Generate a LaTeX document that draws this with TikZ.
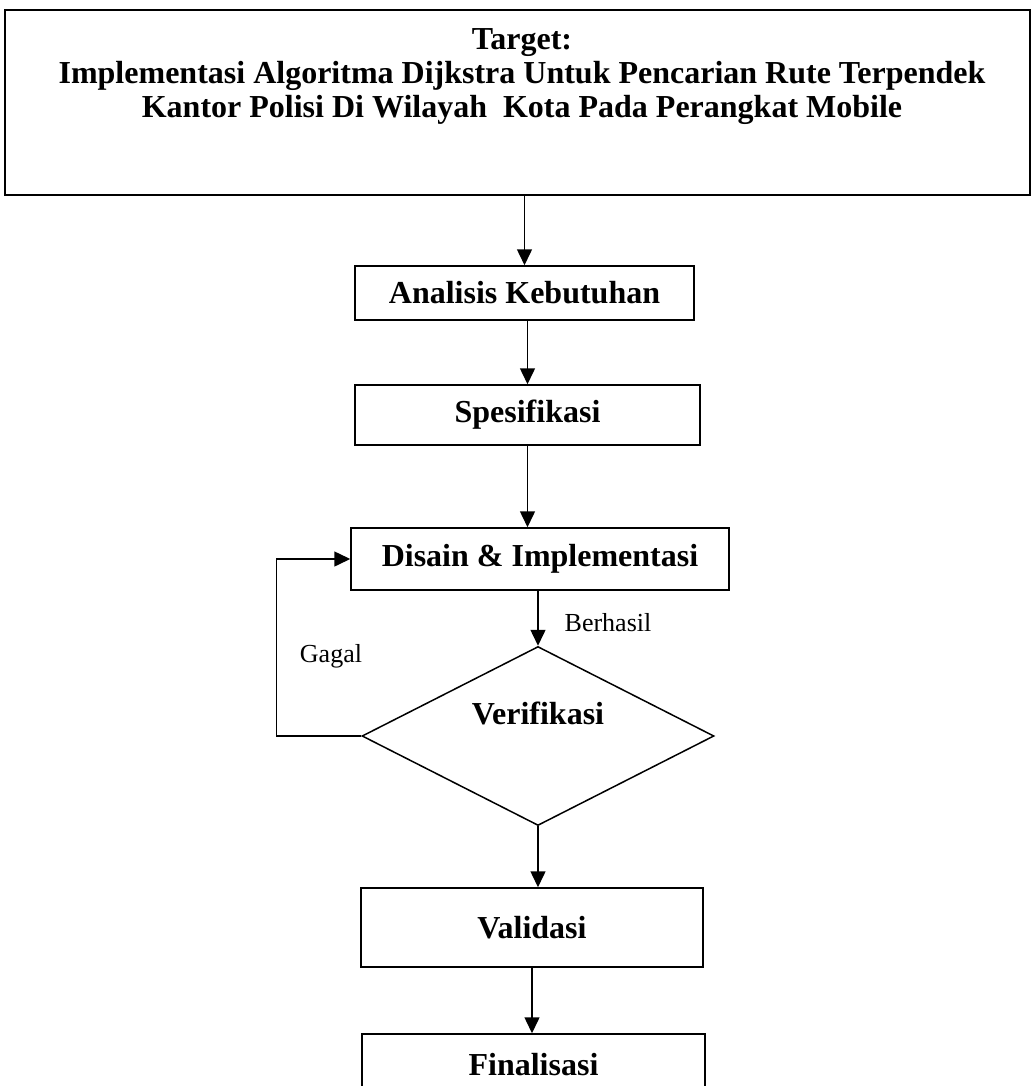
\documentclass[tikz,border=0pt]{standalone}
\usepackage{fontspec}
\setmainfont{Liberation Serif}
\usetikzlibrary{shapes.geometric,arrows.meta}
\tikzset{
  boxnode/.style={draw,line width=1.5pt,inner sep=0pt,font=\fontsize{32}{38}\selectfont\bfseries},
  conn/.style={line width=1.5pt,-{Triangle[length=16pt,width=15pt]}},
  lbl/.style={font=\fontsize{26}{30}\selectfont},
}
\begin{document}
\begin{tikzpicture}[x=1pt,y=-1pt]
\useasboundingbox (0,0) rectangle (1032,1086);
\node[draw,line width=1.5pt,minimum width=1025pt,minimum height=185pt,inner sep=0pt] (target) at (517.5,102.5) {};
\node[align=center,font=\fontsize{32}{34}\selectfont\bfseries] (title) at (522,77)
  {Target:\\Implementasi Algoritma Dijkstra Untuk Pencarian Rute Terpendek\\Kantor Polisi Di Wilayah\ \ Kota Pada Perangkat Mobile};
\node[boxnode,minimum width=339pt,minimum height=54pt] (ana) at (524.5,293) {Analisis Kebutuhan};
\node[boxnode,minimum width=345pt,minimum height=60pt] (spes) at (527.5,415) {Spesifikasi};
\node[boxnode,minimum width=378pt,minimum height=62pt] (dis) at (540,559) {Disain \& Implementasi};
\node[draw,diamond,line width=1.5pt,inner sep=0pt,aspect=1.97,minimum width=352pt,minimum height=179pt] (ver) at (538,736) {};
\node[font=\fontsize{32}{38}\selectfont\bfseries] (vtext) at (538,713) {Verifikasi};
\node[boxnode,minimum width=342pt,minimum height=79pt] (val) at (532,927.5) {Validasi};
\node[boxnode,minimum width=343pt,minimum height=62pt] (fin) at (533.5,1065) {Finalisasi};
\node[lbl] (gagal) at (331,656) {Gagal};
\node[lbl] (berhasil) at (608,623) {Berhasil};
\draw[conn] (target.south -| ana.north) -- (ana.north);
\draw[conn] (ana.south -| spes.north) -- (spes.north);
\draw[conn] (spes.south) -- (spes.south |- dis.north);
\draw[conn] (dis.south -| ver.north) -- (ver.north);
\draw[conn] (ver.west) -- ++(-85,0) |- (dis.west);
\draw[conn] (ver.south) -- (ver.south |- val.north);
\draw[conn] (val.south) -- (val.south |- fin.north);
\end{tikzpicture}
\end{document}
